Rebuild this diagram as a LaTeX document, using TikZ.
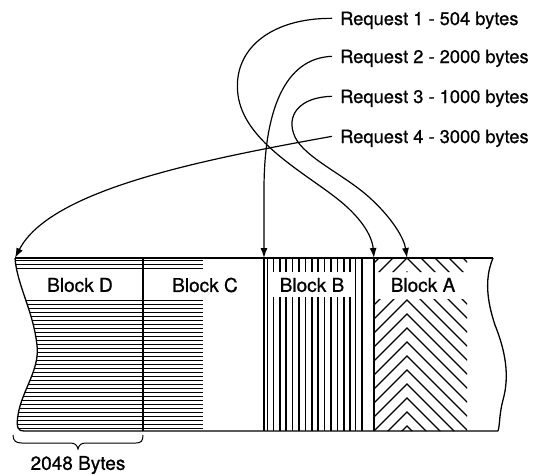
\documentclass[tikz,border=0pt]{standalone}
\usepackage{fontspec}
\setmainfont{TeX Gyre Heros}[FakeBold=0.8]
\usetikzlibrary{arrows.meta}
\tikzset{
  req/.style={anchor=base west,inner xsep=8pt,inner ysep=0pt,text depth=0pt,font=\fontsize{18.3}{22}\selectfont},
  lbl/.style={inner sep=1pt,font=\fontsize{19}{22}\selectfont},
  ptr/.style={-{Latex[length=10pt,width=7pt]},line width=1.2pt},
  edge/.style={line width=1.3pt},
  hatchH/.style={line width=1pt},
  hatchV/.style={line width=1.5pt},
  hatchA/.style={line width=1.1pt}
}
\begin{document}
\begin{tikzpicture}[x=1pt,y=-1pt]
\useasboundingbox (0,0) rectangle (544,475);
\coordinate (tD) at (15,258);
\coordinate (tC) at (143,258);
\coordinate (tB) at (264,258);
\coordinate (tA) at (374,258);
\coordinate (tX) at (407,258);
\coordinate (rt) at (493,258);
\coordinate (bl) at (24,431);
\coordinate (br) at (498,431);
\begin{scope}
  \clip (tD) .. controls (17,285) and (33,310) .. (37,345) .. controls (40,370) and (22,390) .. (18,415) .. controls (16,428) and (18,431) .. (bl) -- (203,431) -- (203,258) -- cycle;
  \foreach \y in {260,264,268,300,304,...,428}
    \draw[hatchH] (0,\y) -- (203,\y);
\end{scope}
\foreach \x in {267.5,355.6,362}
  \draw[hatchV] (\x,258) -- (\x,431);
\foreach \k in {1,...,13} {
  \draw[hatchV] ({267+6.4*\k},258) -- ({267+6.4*\k},272);
  \draw[hatchV] ({267+6.4*\k},297) -- ({267+6.4*\k},431);
}
\begin{scope}
  \clip (374,258) rectangle (467,272) (374,299) rectangle (467,431);
  \foreach \k in {-5,...,13}
    \draw[hatchA] (207,{458+14*\k}) -- (407,{258+14*\k}) -- (607,{458+14*\k});
\end{scope}
\draw[edge] (tD) -- (rt);
\draw[edge] (tD) .. controls (17,285) and (33,310) .. (37,345) .. controls (40,370) and (22,390) .. (18,415) .. controls (16,428) and (18,431) .. (bl) -- (br);
\draw[edge] (rt) .. controls (486,275) and (485,295) .. (495,325) .. controls (505,350) and (510,375) .. (503,400) .. controls (499,415) and (500,425) .. (br);
\draw[edge] (tC) -- (tC |- bl);
\draw[edge] (tB) -- (tB |- bl);
\draw[edge] (tA) -- (tA |- bl);
\node[lbl] (bD) at (80,285) {Block D};
\node[lbl] (bC) at (205,285) {Block C};
\node[lbl] (bB) at (312,285) {Block B};
\node[lbl] (bA) at (423,285) {Block A};
\node[req] (r1) at (332,25) {Request 1 - 504 bytes};
\node[req] (r2) at (332,63) {Request 2 - 2000 bytes};
\node[req] (r3) at (332,103) {Request 3 - 1000 bytes};
\node[req] (r4) at (332,143) {Request 4 - 3000 bytes};
\draw[ptr] (r1.west) .. controls (270,18) and (232,50) .. (238,95) .. controls (244,140) and (300,170) .. (335,197) .. controls (360,216) and (372,235) .. (tA);
\draw[ptr] (r2.west) .. controls (285,58) and (264,110) .. (264,190) -- (tB);
\draw[ptr] (r3.west) .. controls (300,97) and (285,115) .. (295,137) .. controls (305,158) and (345,175) .. (370,198) .. controls (392,218) and (404,238) .. (tX);
\draw[ptr] (r4.west) .. controls (200,160) and (50,190) .. (tD);
\draw[line width=1pt] (13,435) .. controls (13,441) and (16,443) .. (22,443) -- (70,443) .. controls (75,443) and (77,445) .. (78,449) .. controls (79,445) and (81,443) .. (86,443) -- (136,443) .. controls (141,443) and (143,441) .. (143,435);
\node[lbl] (sz) at (78,465) {2048 Bytes};
\end{tikzpicture}
\end{document}
